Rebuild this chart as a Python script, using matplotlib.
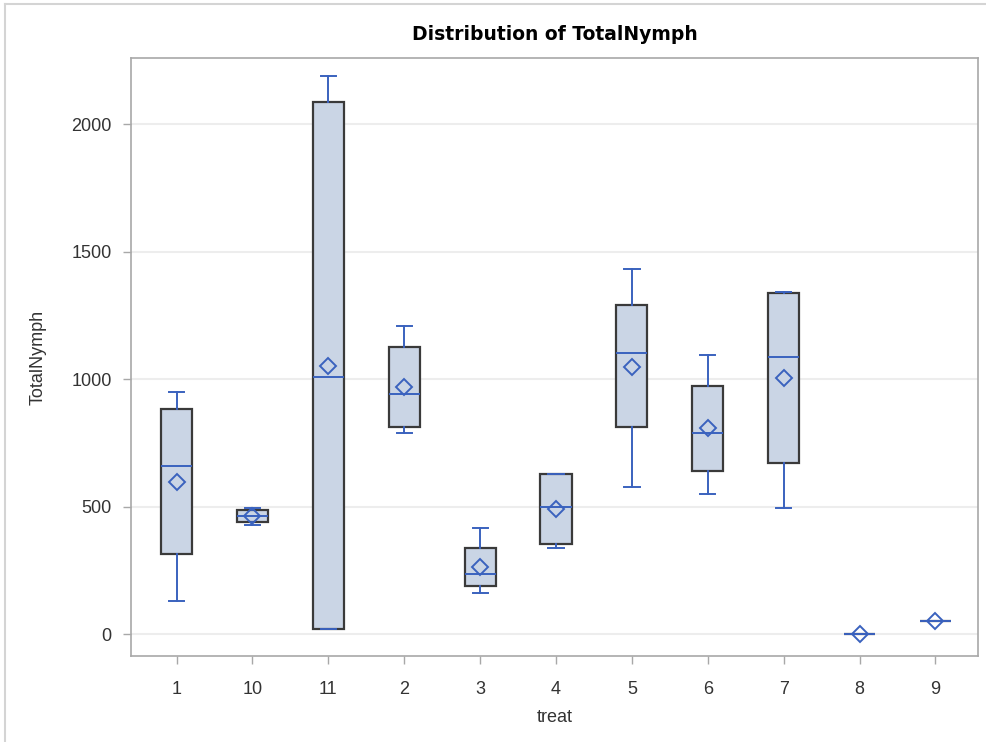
import matplotlib.pyplot as plt
from matplotlib.lines import Line2D

# summary statistics, one entry per treat level
treat = ['1', '10', '11', '2', '3', '4', '5', '6', '7', '8', '9']
whislo = [129, 427, 18, 787, 162, 336, 575, 548, 493, 0, 50]
q1 = [314, 438, 20, 813, 188, 353, 813, 639, 672, 0, 50]
med = [658, 463, 1008, 940, 235, 498, 1101, 790, 1088, 0, 50]
q3 = [884, 486, 2087, 1124, 336, 629, 1290, 973, 1336, 0, 50]
whishi = [948, 493, 2188, 1208, 416, 629, 1430, 1094, 1342, 0, 50]
means = [597, 463, 1051, 967, 264, 490, 1048, 807, 1003, 0, 50]
yticks = [0, 500, 1000, 1500, 2000]

plt.rcParams['font.family'] = ['Liberation Sans', 'DejaVu Sans']

blue = '#3A62BE'
fill = '#CAD5E5'
edge = '#3a3a3a'

fig = plt.figure(figsize=(9.87, 7.42), dpi=100)
ax = fig.add_axes([131 / 987, 1 - 656 / 742, 847 / 987, 598 / 742])

stats = []
for i, name in enumerate(treat):
    stats.append({'label': name, 'whislo': whislo[i], 'q1': q1[i], 'med': med[i],
                  'q3': q3[i], 'whishi': whishi[i], 'mean': means[i], 'fliers': []})

ax.bxp(stats, positions=range(len(treat)), widths=0.41, capwidths=0.2,
       patch_artist=True, showmeans=True, zorder=3,
       boxprops=dict(facecolor=fill, edgecolor=edge, linewidth=1.6),
       medianprops=dict(color=blue, linewidth=1.4),
       whiskerprops=dict(color=blue, linewidth=1.4),
       capprops=dict(color=blue, linewidth=1.4),
       meanprops=dict(marker='D', markersize=8, markerfacecolor='none',
                      markeredgecolor=blue, markeredgewidth=1.4))

ax.set_xlim(-0.6, 10.56)
ax.set_ylim(-86, 2259)
ax.set_yticks(yticks)
ax.set_yticklabels([str(v) for v in yticks])
ax.grid(axis='y', color='#ededed', linewidth=1.5, zorder=0)
ax.set_axisbelow(True)

for s in ax.spines.values():
    s.set_color('#a8a8a8')
    s.set_linewidth(1.2)
ax.tick_params(length=6, width=1, color='#a8a8a8', labelsize=13,
               labelcolor='#333333')
ax.tick_params(axis='x', pad=12)
ax.tick_params(axis='y', pad=8)

ax.set_xlabel('treat', fontsize=13, color='#333333', labelpad=8)
ax.set_ylabel('TotalNymph', fontsize=13, color='#333333', labelpad=18)
ax.set_title('Distribution of TotalNymph', fontsize=13.5, fontweight='bold',
             family='DejaVu Sans', pad=13)

# faint border of the original screenshot
fig.add_artist(Line2D([5 / 987, 1], [1 - 4 / 742, 1 - 4 / 742],
                      color='#d4d4d4', linewidth=1.5))
fig.add_artist(Line2D([5 / 987, 5 / 987], [0, 1 - 4 / 742],
                      color='#d4d4d4', linewidth=1.5))

fig.savefig('out.png', dpi=100)
